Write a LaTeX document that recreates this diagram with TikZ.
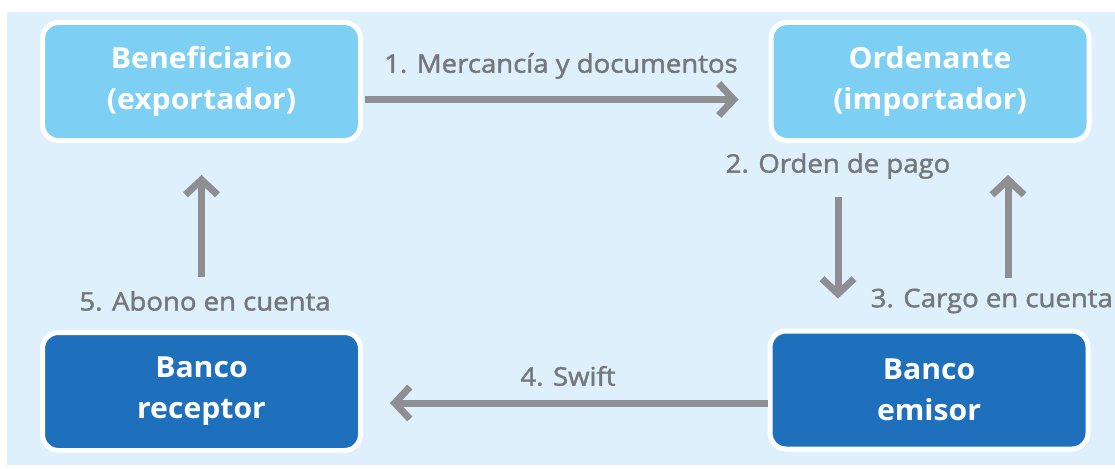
\documentclass[tikz,border=0pt]{standalone}
\usepackage{fontspec}
\setmainfont{Open Sans}
\newfontfamily\pasofont[FakeBold=1.6,FakeStretch=1.08]{Open Sans}
\newfontfamily\cajafont[FakeStretch=1.04]{Open Sans}
\usetikzlibrary{arrows.meta}
\definecolor{fondo}{HTML}{DDF0FB}
\definecolor{claro}{HTML}{7DD0F4}
\definecolor{oscuro}{HTML}{1F70BC}
\definecolor{flecha}{HTML}{8F8F93}
\definecolor{texto}{HTML}{75777B}
\tikzset{
  caja/.style={draw=white, line width=5pt, rounded corners=16pt,
    minimum width=318pt, minimum height=118pt, text=white, align=center,
    font=\cajafont\fontsize{29}{41}\selectfont\bfseries},
  flujo/.style={flecha, line width=7pt, -{Straight Barb[length=15pt,width=32pt]}},
  paso/.style={text=texto, font=\pasofont\fontsize{25.5}{28}\selectfont}
}
\begin{document}
\begin{tikzpicture}[x=1pt,y=-1pt]
\useasboundingbox (0,0) rectangle (1115,468);
%%% fondo
\fill[fondo] (7,12) rectangle (1115,465);
%%% the four parties
\node[caja, fill=claro] (benef) at (201.5,81.5) {Beneficiario\\(exportador)};
\node[caja, fill=claro] (orden) at (930,81.5) {Ordenante\\(importador)};
\node[caja, fill=oscuro] (receptor) at (201.5,391.5) {Banco\\receptor};
\node[caja, fill=oscuro] (emisor) at (929,390) {Banco\\emisor};
% columns of the vertical arrows
\coordinate (c2) at (838,0);
\coordinate (c3) at (1008,0);
%%% the steps
\draw[flujo, shorten <=2pt, shorten >=30pt] ([yshift=-18pt]benef.east) -- ([yshift=-18pt]orden.west);
\draw[flujo, shorten <=54pt, shorten >=30pt] (orden.south -| c2) -- (emisor.north -| c2);
\draw[flujo, shorten <=51pt, shorten >=32pt] (emisor.north -| c3) -- (orden.south -| c3);
\draw[flujo, shorten <=0pt, shorten >=27pt] ([yshift=-13pt]emisor.west) -- ([yshift=-11.5pt]receptor.east);
\draw[flujo, shorten <=53pt, shorten >=32pt] (receptor.north) -- (benef.south);
\node[paso] (p1) at (561,66) {1. Mercancía y documentos};
\node[paso] (p2) at (838,166) {2. Orden de pago};
\node[paso, anchor=east, inner xsep=1pt] (p3) at (1114,301) {3. Cargo en cuenta};
\node[paso] (p4) at (568,376) {4. Swift};
\node[paso] (p5) at (205,301) {5. Abono en cuenta};
\end{tikzpicture}
\end{document}
